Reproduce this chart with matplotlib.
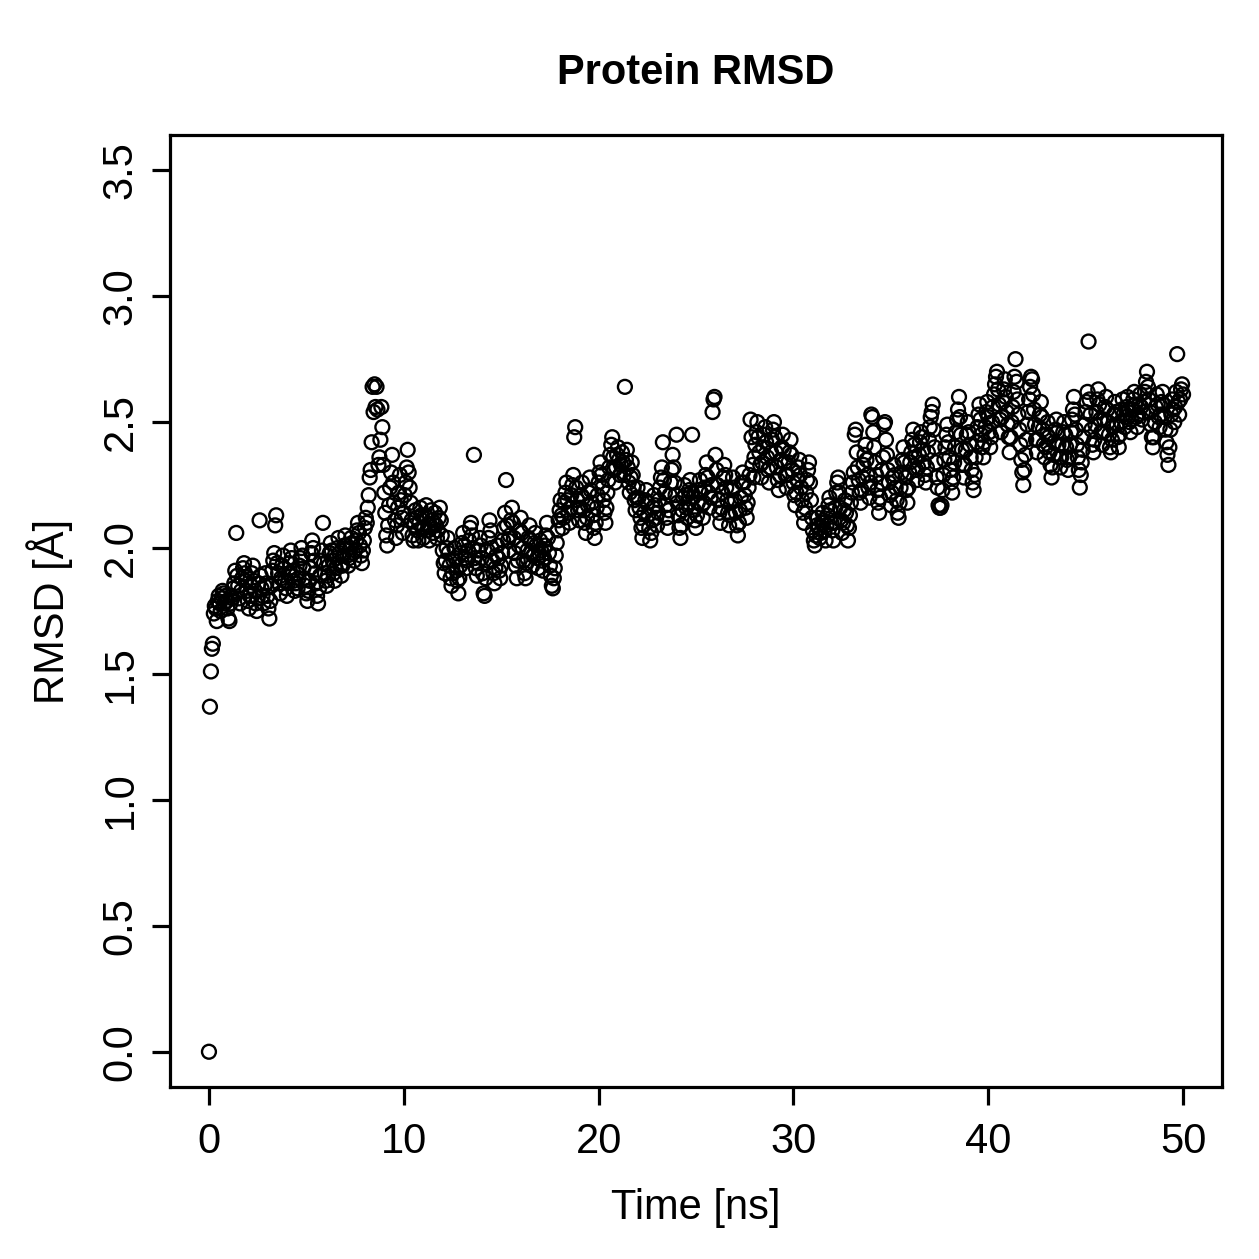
import numpy as np
import matplotlib
matplotlib.use("Agg")
import matplotlib.pyplot as plt

# RMSD in hundredths of an Angstrom, one row per ns (frames every 0.05 ns)
rmsd_raw = [
    0, 137, 151, 160, 162, 174, 177, 176, 171, 179, 181, 178, 175, 180, 183, 182, 178, 181, 179, 176,
    172, 171, 178, 181, 180, 184, 186, 191, 206, 189, 185, 180, 178, 183, 188, 192, 194, 190, 187, 183,
    179, 176, 181, 185, 190, 193, 187, 183, 178, 175, 180, 186, 211, 189, 184, 181, 178, 185, 190, 186,
    181, 176, 172, 179, 185, 191, 195, 198, 209, 213, 194, 190, 186, 182, 188, 193, 197, 192, 187, 184,
    181, 186, 190, 194, 199, 196, 191, 187, 183, 186, 190, 184, 188, 193, 196, 200, 197, 192, 188, 185,
    182, 179, 183, 187, 192, 198, 203, 200, 195, 190, 186, 181, 178, 184, 189, 195, 199, 210, 194, 190,
    187, 185, 189, 193, 198, 202, 199, 195, 190, 187, 192, 196, 200, 204, 198, 193, 189, 193, 197, 201,
    205, 201, 197, 193, 196, 200, 204, 202, 198, 195, 199, 203, 207, 210, 206, 201, 197, 194, 199, 203,
    208, 212, 210, 216, 221, 228, 231, 242, 264, 254, 265, 256, 264, 255, 233, 236, 243, 256, 248, 233,
    222, 214, 205, 201, 209, 217, 224, 230, 237, 226, 218, 211, 204, 209, 216, 222, 229, 219, 212, 206,
    214, 221, 226, 232, 239, 230, 224, 218, 211, 205, 203, 209, 215, 212, 207, 203, 210, 216, 213, 208,
    204, 208, 213, 217, 212, 207, 203, 209, 215, 211, 206, 210, 214, 209, 204, 207, 212, 216, 211, 205,
    199, 194, 190, 195, 200, 204, 198, 193, 188, 185, 190, 195, 200, 196, 191, 187, 182, 188, 193, 198,
    202, 206, 201, 196, 192, 195, 199, 203, 208, 210, 205, 200, 237, 196, 192, 189, 194, 199, 204, 201,
    196, 190, 182, 181, 188, 194, 199, 204, 211, 207, 200, 195, 190, 186, 192, 197, 201, 196, 191, 188,
    193, 198, 203, 208, 214, 227, 209, 203, 199, 205, 211, 216, 210, 204, 198, 193, 188, 195, 201, 207,
    212, 206, 200, 195, 190, 188, 194, 199, 204, 209, 203, 198, 193, 197, 202, 206, 201, 196, 192, 198,
    203, 199, 195, 191, 196, 201, 205, 210, 204, 198, 193, 189, 185, 184, 188, 192, 197, 202, 207, 211,
    215, 219, 213, 208, 212, 218, 222, 226, 219, 214, 210, 216, 221, 225, 229, 244, 248, 224, 219, 215,
    211, 216, 221, 226, 220, 215, 210, 206, 212, 217, 222, 228, 223, 218, 213, 208, 204, 210, 216, 221,
    226, 230, 234, 229, 224, 219, 214, 210, 216, 222, 227, 232, 237, 241, 244, 236, 231, 226, 232, 237,
    240, 235, 229, 233, 238, 234, 229, 264, 235, 239, 232, 226, 222, 228, 234, 229, 224, 219, 215, 220,
    224, 220, 216, 212, 208, 204, 209, 214, 219, 223, 218, 213, 208, 203, 206, 211, 216, 221, 217, 212,
    209, 214, 219, 224, 228, 232, 242, 227, 222, 217, 212, 208, 215, 221, 226, 231, 237, 232, 226, 221,
    245, 218, 213, 208, 204, 209, 215, 220, 225, 221, 216, 212, 218, 223, 227, 222, 245, 220, 215, 211,
    208, 213, 218, 223, 227, 222, 217, 212, 218, 224, 229, 234, 228, 222, 216, 220, 225, 254, 259, 260,
    237, 231, 225, 219, 214, 210, 216, 222, 228, 233, 229, 224, 219, 214, 209, 213, 218, 223, 228, 224,
    219, 214, 209, 205, 210, 215, 220, 226, 230, 226, 221, 216, 212, 218, 224, 229, 251, 244, 233, 228,
    236, 241, 246, 250, 244, 238, 233, 228, 234, 240, 245, 248, 242, 236, 231, 226, 232, 238, 243, 247,
    250, 244, 238, 232, 227, 223, 229, 235, 240, 245, 239, 234, 229, 224, 229, 234, 238, 243, 237, 231,
    226, 221, 217, 222, 227, 232, 235, 229, 224, 219, 214, 210, 216, 222, 227, 231, 234, 226, 219, 212,
    207, 203, 201, 205, 209, 212, 208, 204, 206, 210, 214, 211, 207, 203, 209, 213, 217, 220, 215, 210,
    207, 203, 210, 216, 222, 226, 228, 222, 216, 211, 206, 210, 215, 219, 214, 209, 203, 208, 213, 218,
    222, 226, 230, 245, 247, 238, 232, 227, 222, 218, 223, 228, 233, 237, 241, 235, 229, 224, 220, 226,
    253, 252, 246, 240, 234, 229, 223, 218, 214, 220, 226, 231, 236, 249, 250, 243, 237, 231, 226, 221,
    217, 222, 228, 233, 229, 224, 219, 214, 212, 218, 224, 230, 235, 240, 234, 228, 223, 218, 224, 230,
    234, 238, 243, 247, 241, 236, 231, 227, 232, 237, 242, 246, 244, 239, 234, 229, 226, 232, 238, 243,
    248, 252, 254, 257, 247, 240, 234, 228, 224, 217, 216, 216, 217, 223, 229, 235, 240, 245, 249, 242,
    236, 231, 226, 222, 228, 234, 240, 246, 251, 255, 260, 252, 245, 239, 233, 228, 233, 239, 245, 250,
    246, 241, 236, 231, 226, 223, 229, 236, 242, 248, 253, 257, 251, 245, 240, 236, 242, 248, 254, 258,
    252, 246, 240, 244, 250, 256, 261, 265, 268, 270, 263, 257, 251, 246, 252, 258, 263, 267, 260, 254,
    249, 244, 238, 244, 250, 256, 262, 268, 275, 266, 259, 253, 247, 241, 235, 230, 225, 231, 237, 243,
    249, 254, 259, 264, 268, 267, 261, 255, 249, 243, 238, 243, 248, 253, 258, 252, 247, 241, 236, 240,
    245, 250, 244, 238, 233, 228, 232, 237, 242, 247, 251, 246, 241, 236, 232, 236, 241, 246, 250, 245,
    240, 235, 231, 236, 241, 246, 251, 255, 260, 253, 247, 241, 236, 231, 224, 229, 234, 239, 244, 249,
    254, 258, 262, 282, 259, 253, 247, 241, 238, 243, 249, 254, 259, 263, 257, 251, 246, 241, 246, 251,
    256, 260, 255, 250, 245, 240, 238, 243, 248, 253, 258, 254, 249, 244, 240, 245, 250, 255, 259, 253,
    248, 252, 256, 260, 255, 250, 246, 251, 255, 259, 262, 257, 252, 248, 253, 257, 261, 256, 251, 254,
    258, 262, 266, 270, 264, 259, 254, 249, 244, 240, 244, 250, 256, 261, 257, 252, 248, 253, 258, 262,
    257, 252, 247, 242, 237, 233, 240, 247, 253, 259, 255, 250, 256, 262, 277, 258, 253, 259, 263, 265,
    261,
]
time_step = 0.05  # ns between frames

x_ticks = [0, 10, 20, 30, 40, 50]
y_ticks = [0.0, 0.5, 1.0, 1.5, 2.0, 2.5, 3.0, 3.5]

rmsd = np.array(rmsd_raw) / 100.0
time = np.arange(len(rmsd)) * time_step

plt.rcParams['font.family'] = ['Liberation Sans', 'DejaVu Sans']

fig = plt.figure(figsize=(12.59, 12.59), dpi=100)
ax = fig.add_axes([170 / 1259, 1 - 1087 / 1259, 1052 / 1259, 952 / 1259])

ax.scatter(time, rmsd, s=100, facecolors='none', edgecolors='black', linewidths=1.7)

ax.set_xlim(-2, 52)
ax.set_ylim(-0.14, 3.64)
ax.set_xticks(x_ticks)
ax.set_yticks(y_ticks)
ax.set_xticklabels([str(t) for t in x_ticks])
ax.set_yticklabels(['%.1f' % t for t in y_ticks], rotation=90, va='center')

for side in ax.spines.values():
    side.set_linewidth(2.3)
ax.tick_params(axis='both', length=13, width=2.3, labelsize=30)
ax.tick_params(axis='x', pad=12)
ax.tick_params(axis='y', pad=8)

ax.set_xlabel('Time [ns]', fontsize=30, labelpad=19)
ax.set_ylabel('RMSD [Å]', fontsize=30, labelpad=20)
ax.set_title('Protein RMSD', fontsize=30, fontweight='bold', pad=37)

fig.savefig('out.png', dpi=100)
